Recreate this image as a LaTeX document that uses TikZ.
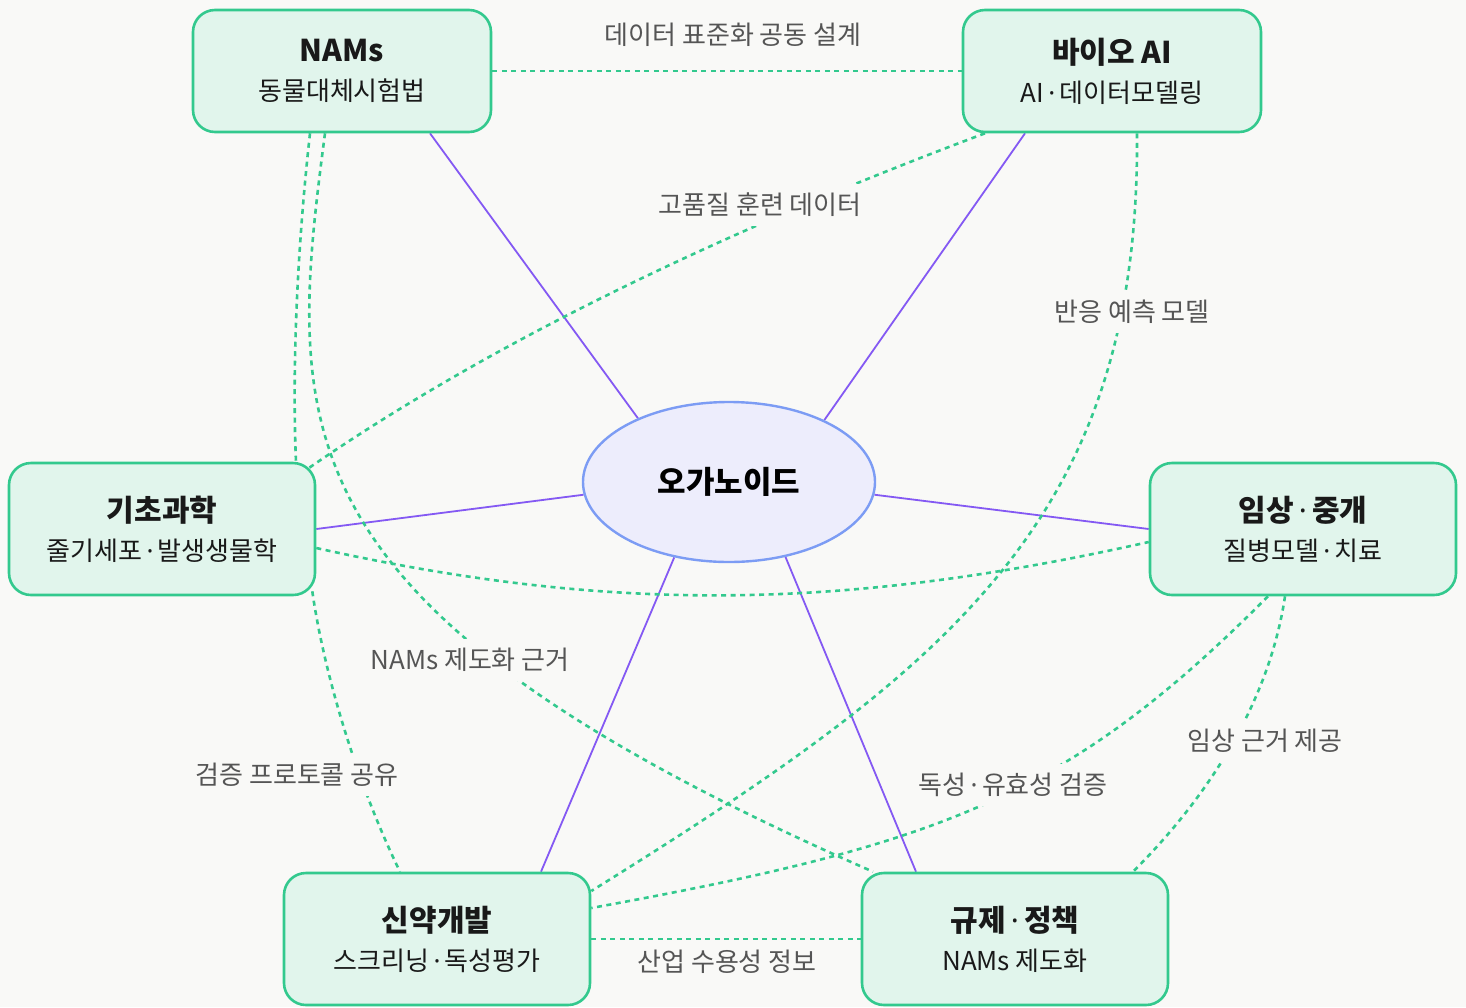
\documentclass[tikz,border=0pt]{standalone}
\usepackage{fontspec}
\setmainfont{Noto Sans CJK KR}
\newfontfamily\latinfont{Noto Sans}
\newcommand{\mdot}{{\latinfont\,·\,}}
\usetikzlibrary{shapes.geometric}
\pgfdeclarelayer{background}
\pgfsetlayers{background,main}

\definecolor{paper}{HTML}{F9F9F7}
\definecolor{boxfill}{HTML}{E1F5EC}
\definecolor{mint}{HTML}{33C98E}
\definecolor{violet}{HTML}{8459F3}
\definecolor{hubline}{HTML}{7C9CF4}
\definecolor{hubfill}{HTML}{EDEDFC}
\definecolor{labelgray}{HTML}{555555}

\begin{document}
\begin{tikzpicture}[x=1pt, y=-1pt,
    topic/.style={rectangle, rounded corners=22pt, draw=mint, fill=boxfill, line width=2.6pt,
        minimum width=306pt, minimum height=132pt, align=center, text=black!90,
        font=\fontsize{26}{30}\selectfont},
    hub/.style={ellipse, draw=hubline, fill=hubfill, line width=2.4pt, minimum width=292pt,
        minimum height=160pt, inner sep=0pt, font=\fontsize{31}{34}\selectfont\bfseries},
    link/.style={mint, line width=2.6pt, dash pattern=on 5pt off 4.5pt},
    spoke/.style={violet, line width=1.8pt},
    tag/.style={fill=paper, inner sep=9pt, text=labelgray, font=\fontsize{26}{30}\selectfont}]

    % Nodes
    \node[hub] (organoid) at (729,482) {오가노이드};
    \node[topic, minimum width=298pt, minimum height=122pt] (nams) at (342,71)
        {{\bfseries\fontsize{30}{32}\selectfont NAMs}\\[9pt]동물대체시험법};
    \node[topic, minimum width=298pt, minimum height=122pt] (bioai) at (1112,71)
        {{\bfseries\fontsize{30}{32}\selectfont 바이오 AI}\\[9pt]AI\mdot 데이터모델링};
    \node[topic] (basic) at (162,529)
        {{\bfseries\fontsize{30}{32}\selectfont 기초과학}\\[9pt]줄기세포\mdot 발생생물학};
    \node[topic] (clinic) at (1303,529)
        {{\bfseries\fontsize{30}{32}\selectfont 임상\mdot 중개}\\[9pt]질병모델\mdot 치료};
    \node[topic] (drug) at (437,939)
        {{\bfseries\fontsize{30}{32}\selectfont 신약개발}\\[9pt]스크리닝\mdot 독성평가};
    \node[topic] (policy) at (1015,939)
        {{\bfseries\fontsize{30}{32}\selectfont 규제\mdot 정책}\\[9pt]NAMs 제도화};

    \begin{pgfonlayer}{background}
        \fill[paper] (0,0) rectangle (1466,1007);

        % Spokes
        \draw[spoke] ([xshift=88pt]nams.south) -- (organoid.145);
        \draw[spoke] ([xshift=-87pt]bioai.south) -- (organoid.33);
        \draw[spoke] (basic.east) -- (organoid.185);
        \draw[spoke] (clinic.west) -- (organoid.-5);
        \draw[spoke] ([xshift=104pt]drug.north) -- (organoid.234);
        \draw[spoke] ([xshift=-99pt]policy.north) -- (organoid.307);

        % Links
        \draw[link] (nams.east) -- (bioai.west);
        \draw[link] (drug.east) -- (policy.west);
        \draw[link] ([xshift=-32pt]nams.south) .. controls (297,250) and (292,370) .. ([xshift=134pt]basic.north);
        \draw[link] ([xshift=-17pt]nams.south) .. controls (286,432) and (273,609) .. ([xshift=-142pt]policy.north);
        \draw[link] ([xshift=-127pt]bioai.south) .. controls (705,238) and (480,350) .. ([xshift=-7pt,yshift=-6pt]basic.north east);
        \draw[link] ([xshift=25pt]bioai.south) .. controls (1140,520) and (950,668) .. ([yshift=48pt]drug.east);
        \draw[link] ([yshift=-19pt]basic.east) .. controls (616,615) and (850,609) .. ([yshift=-13pt]clinic.west);
        \draw[link] ([xshift=-4pt,yshift=5pt]basic.south east) .. controls (325,680) and (360,790) .. ([xshift=-37pt]drug.north);
        \draw[link] ([xshift=-35pt]clinic.south) .. controls (1068,797) and (942,844) .. ([yshift=31pt]drug.east);
        \draw[link] ([xshift=-18pt]clinic.south) .. controls (1270,697) and (1213,792) .. ([xshift=118pt]policy.north);
    \end{pgfonlayer}

    % Labels
    \node[tag] (t-data) at (733,35) {데이터 표준화 공동 설계};
    \node[tag] (t-train) at (760,205) {고품질 훈련 데이터};
    \node[tag] (t-react) at (1132,312) {반응 예측 모델};
    \node[tag] (t-basis) at (470,660) {NAMs 제도화 근거};
    \node[tag] (t-proto) at (297,775) {검증 프로토콜 공유};
    \node[tag] (t-tox) at (1013,785) {독성\mdot 유효성 검증};
    \node[tag] (t-clin) at (1265,741) {임상 근거 제공};
    \node[tag] (t-ind) at (727,962) {산업 수용성 정보};

    \useasboundingbox (0,0) rectangle (1466,1007);
\end{tikzpicture}
\end{document}
